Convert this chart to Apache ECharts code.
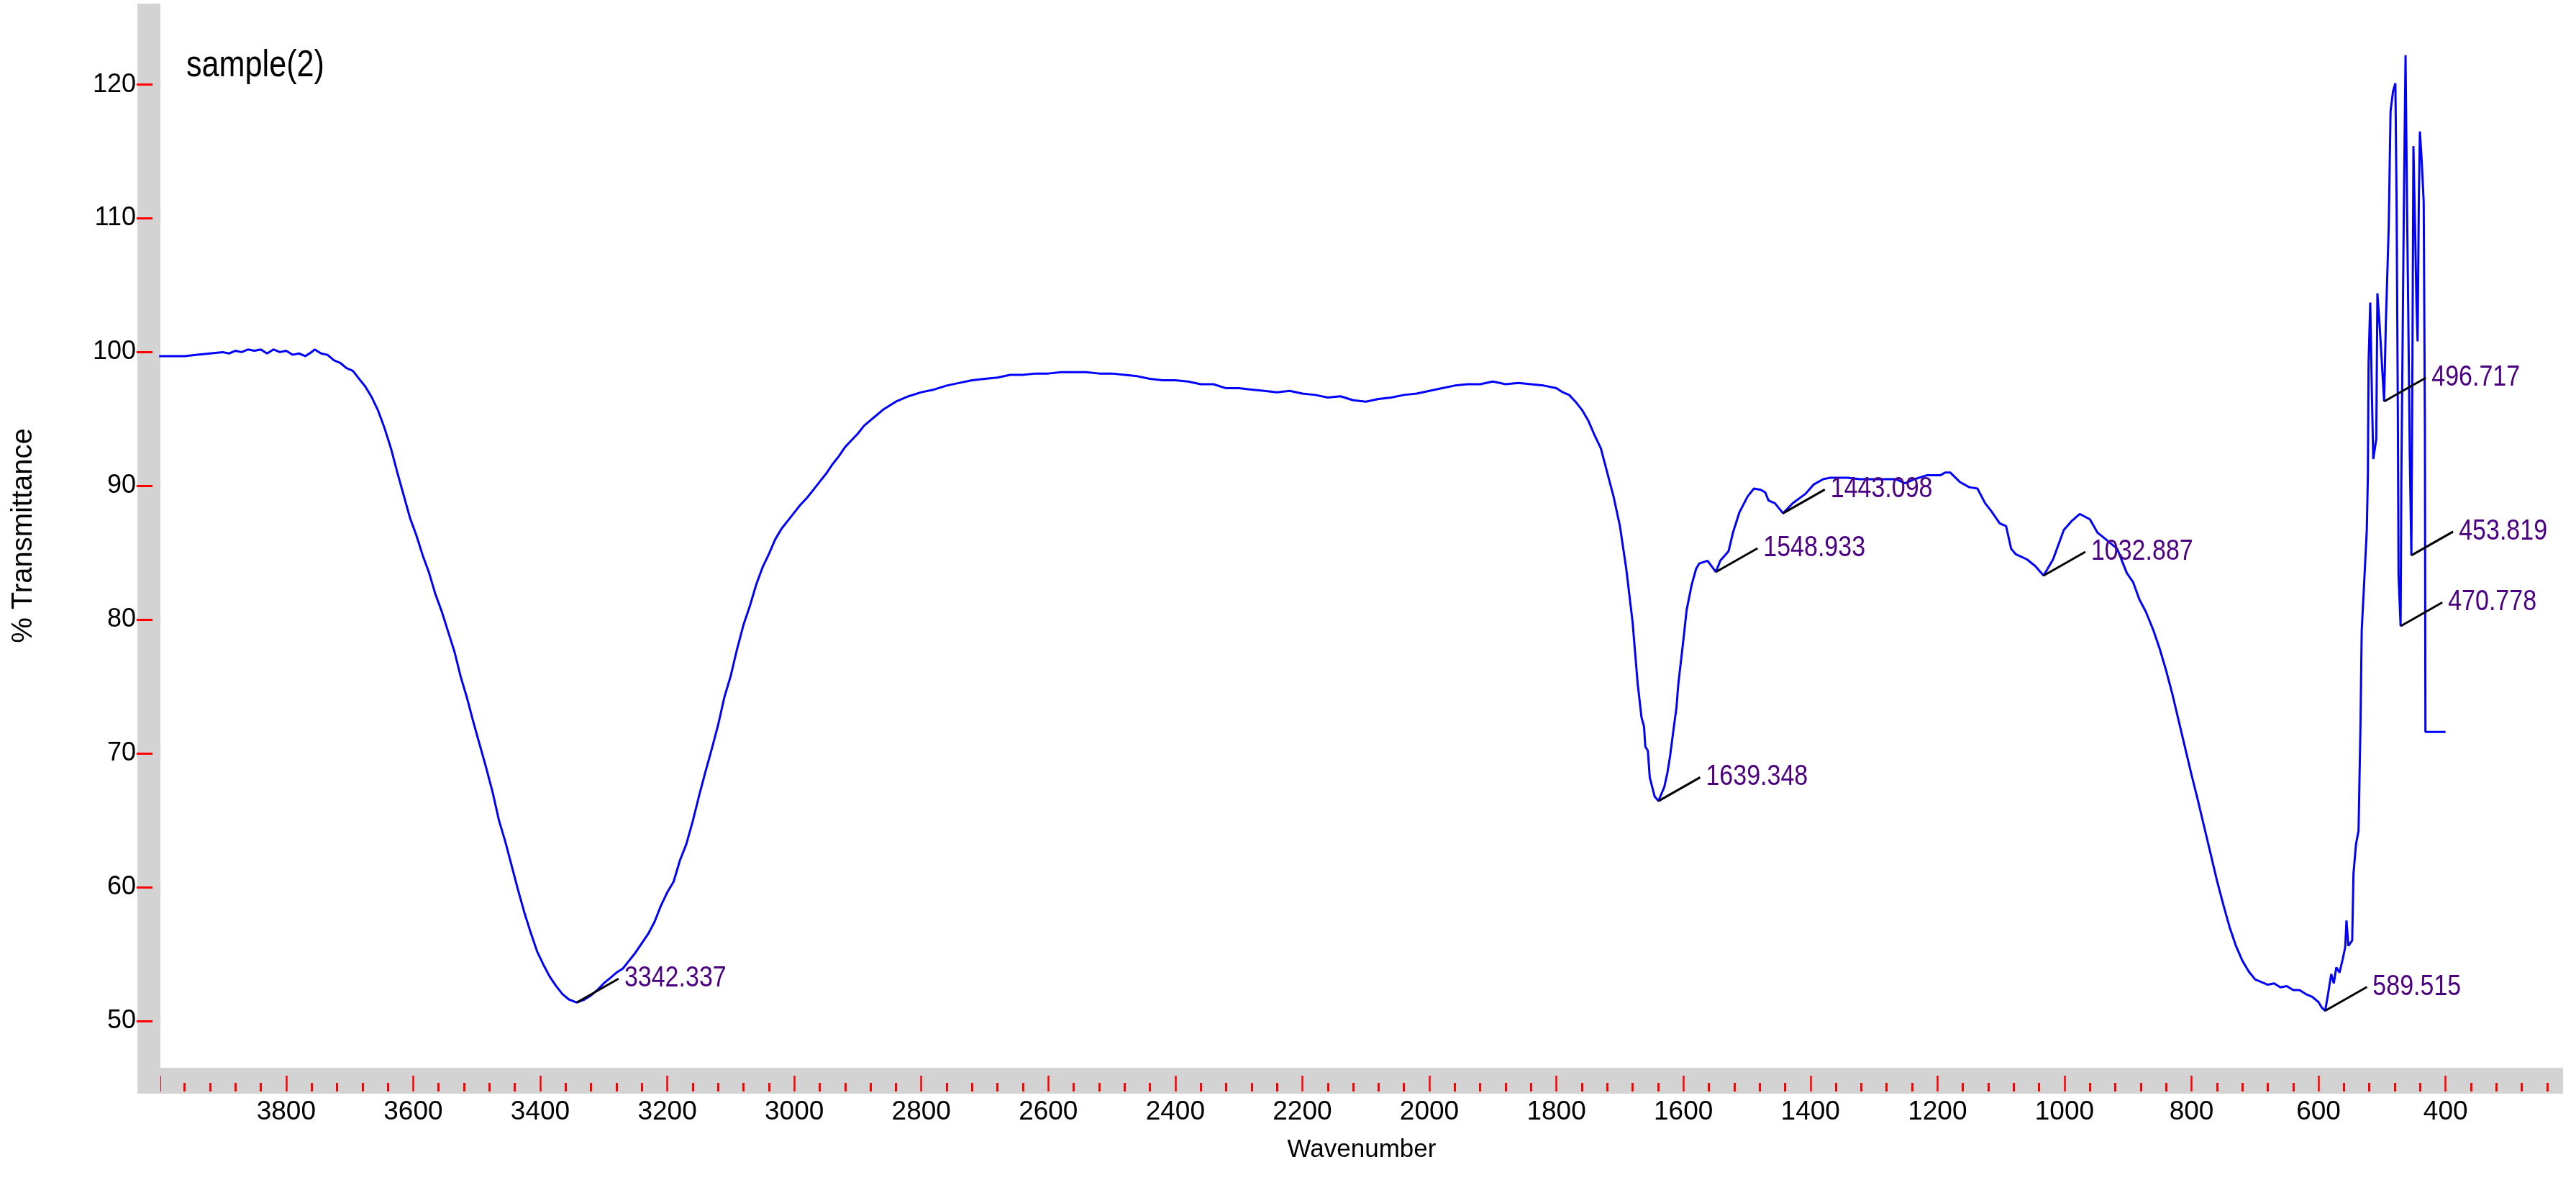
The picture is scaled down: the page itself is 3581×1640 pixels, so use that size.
<!DOCTYPE html>
<html>
<head>
<meta charset="utf-8">
<title>sample(2)</title>
<script src="https://cdn.jsdelivr.net/npm/echarts@6/dist/echarts.min.js"></script>
<style>
  html, body { margin: 0; padding: 0; background: #fff; }
  #chart { width: 3581px; height: 1640px; }
</style>
</head>
<body>
<div id="chart"></div>
<script>
// spectrum (cm-1, %T)
var wavenumber = [
  4000, 3980, 3960, 3940, 3920, 3900, 3890, 3880, 3870, 3860, 3850, 3840, 3830, 3820, 3810, 3800,
  3790, 3780, 3770, 3760, 3755, 3745, 3735, 3725, 3715, 3705, 3695, 3685, 3675, 3665, 3655, 3645,
  3635, 3625, 3615, 3605, 3595, 3585, 3575, 3565, 3555, 3545, 3535, 3525, 3515, 3505, 3495, 3485,
  3475, 3465, 3455, 3445, 3435, 3425, 3415, 3405, 3395, 3385, 3375, 3365, 3355, 3342.337, 3330, 3320,
  3310, 3300, 3290, 3280, 3270, 3260, 3250, 3240, 3230, 3220, 3210, 3200, 3190, 3180, 3170, 3160,
  3150, 3140, 3130, 3120, 3110, 3100, 3090, 3080, 3070, 3060, 3050, 3040, 3030, 3020, 3010, 3000,
  2990, 2980, 2970, 2960, 2950, 2940, 2930, 2920, 2910, 2900, 2890, 2880, 2870, 2860, 2850, 2840,
  2820, 2800, 2780, 2760, 2740, 2720, 2700, 2680, 2660, 2640, 2620, 2600, 2580, 2560, 2540, 2520,
  2500, 2480, 2460, 2440, 2420, 2400, 2380, 2360, 2340, 2320, 2300, 2280, 2260, 2240, 2220, 2200,
  2180, 2160, 2140, 2120, 2100, 2080, 2060, 2040, 2020, 2000, 1980, 1960, 1940, 1920, 1900, 1880,
  1860, 1840, 1820, 1800, 1790, 1780, 1770, 1760, 1750, 1740, 1730, 1720, 1710, 1700, 1690, 1680,
  1672, 1666, 1662, 1660, 1656, 1653, 1645.5, 1639.348, 1630, 1625, 1621, 1615, 1611, 1608, 1600, 1595,
  1587, 1580, 1575, 1562, 1548.933, 1542, 1529, 1522, 1512, 1499, 1489, 1478, 1471, 1466, 1456, 1443.098,
  1428, 1408, 1395, 1380, 1370, 1342, 1322, 1266, 1251, 1236, 1216, 1195, 1188, 1180, 1165, 1150,
  1137, 1125, 1115, 1102, 1092, 1084, 1077, 1059, 1046, 1032.887, 1018, 1001, 988, 976, 960, 948,
  940, 917, 902, 892, 882, 872, 860, 850, 840, 830, 820, 810, 800, 790, 780, 770,
  760, 750, 740, 730, 720, 710, 700, 690, 680, 670, 660, 650, 640, 630, 620, 610,
  600, 595, 589.515, 585, 580, 576, 572, 567, 562, 558, 556, 553, 550, 547, 545, 541,
  537, 534, 532, 528, 524, 522.3, 521.2, 518.6, 516, 513.8, 509.1, 507.3, 503.5, 496.717, 494, 489.5,
  486.6, 482.7, 479, 477.1, 475.2, 474, 470.778, 469.6, 465.6, 463, 460.7, 458.9, 456.3, 453.819, 452.5, 450.6,
  448, 445.8, 444, 442.1, 440.4, 437.4, 434.4, 432.5, 431.7, 400
];
var transmittance = [
  99.7, 99.7, 99.7, 99.8, 99.9, 100.0, 99.9, 100.1, 100.0, 100.2, 100.1, 100.2, 99.9, 100.2, 100.0, 100.1,
  99.8, 99.9, 99.7, 100.0, 100.2, 99.9, 99.8, 99.4, 99.2, 98.8, 98.6, 98.0, 97.4, 96.6, 95.6, 94.3,
  92.8, 91.0, 89.3, 87.6, 86.3, 84.8, 83.5, 81.9, 80.6, 79.1, 77.6, 75.7, 74.1, 72.3, 70.6, 68.9,
  67.1, 65.0, 63.4, 61.6, 59.8, 58.1, 56.6, 55.2, 54.2, 53.3, 52.6, 52.0, 51.6, 51.37, 51.6, 51.9,
  52.3, 52.8, 53.2, 53.6, 53.9, 54.5, 55.1, 55.8, 56.5, 57.4, 58.6, 59.6, 60.4, 62.0, 63.2, 64.9,
  66.8, 68.6, 70.3, 72.1, 74.2, 75.8, 77.8, 79.6, 81.0, 82.6, 83.9, 84.9, 86.0, 86.8, 87.4, 88.0,
  88.6, 89.1, 89.7, 90.3, 90.9, 91.6, 92.2, 92.9, 93.4, 93.9, 94.5, 94.9, 95.3, 95.7, 96.0, 96.3,
  96.7, 97.0, 97.2, 97.5, 97.7, 97.9, 98.0, 98.1, 98.3, 98.3, 98.4, 98.4, 98.5, 98.5, 98.5, 98.4,
  98.4, 98.3, 98.2, 98.0, 97.9, 97.9, 97.8, 97.6, 97.6, 97.3, 97.3, 97.2, 97.1, 97.0, 97.1, 96.9,
  96.8, 96.6, 96.7, 96.4, 96.3, 96.5, 96.6, 96.8, 96.9, 97.1, 97.3, 97.5, 97.6, 97.6, 97.8, 97.6,
  97.7, 97.6, 97.5, 97.3, 97.0, 96.8, 96.3, 95.7, 94.9, 93.8, 92.8, 91.0, 89.2, 87.0, 83.8, 79.8,
  75.2, 72.7, 72.0, 70.5, 70.2, 68.2, 66.8, 66.43, 67.5, 68.6, 69.8, 72.0, 73.4, 75.2, 78.5, 80.7,
  82.6, 83.8, 84.2, 84.4, 83.56, 84.4, 85.1, 86.5, 88.0, 89.2, 89.8, 89.7, 89.5, 88.9, 88.7, 87.95,
  88.7, 89.4, 90.1, 90.5, 90.6, 90.6, 90.5, 90.5, 90.2, 90.5, 90.8, 90.8, 91.0, 91.0, 90.3, 89.9,
  89.8, 88.7, 88.1, 87.2, 87.0, 85.3, 84.9, 84.5, 84.0, 83.29, 84.5, 86.7, 87.4, 87.9, 87.5, 86.5,
  86.2, 85.3, 83.5, 82.8, 81.5, 80.6, 79.2, 77.8, 76.2, 74.4, 72.4, 70.4, 68.4, 66.5, 64.5, 62.5,
  60.5, 58.7, 57.0, 55.6, 54.5, 53.7, 53.1, 52.9, 52.7, 52.8, 52.5, 52.6, 52.3, 52.3, 52.0, 51.8,
  51.4, 51.0, 50.75, 52.0, 53.5, 52.8, 54.0, 53.6, 54.6, 55.5, 57.5, 55.6, 55.8, 56.0, 61.0, 63.2,
  64.2, 72.0, 79.2, 82.9, 86.7, 90.8, 99.2, 103.7, 96.9, 92.0, 93.5, 104.4, 101.8, 96.31, 102.2, 109.3,
  118.0, 119.5, 120.1, 111.2, 96.1, 83.3, 79.51, 90.4, 111.2, 122.2, 111.2, 103.7, 92.3, 84.8, 96.1, 115.4,
  109.3, 103.7, 100.8, 111.2, 116.5, 114.2, 111.2, 94.3, 71.6, 71.6
];

// labelled peaks
var peakWn = [3342.337, 1639.348, 1548.933, 1443.098, 1032.887, 589.515, 496.717, 470.778, 453.819];
var peakT = [51.37, 66.43, 83.56, 87.95, 83.29, 50.75, 96.31, 79.51, 84.8];
var peakLabels = ['3342.337', '1639.348', '1548.933', '1443.098', '1032.887', '589.515', '496.717', '470.778', '453.819'];

// axis ticks
var yTicks = [50, 60, 70, 80, 90, 100, 110, 120];
var xMajor = [3800, 3600, 3400, 3200, 3000, 2800, 2600, 2400, 2200, 2000, 1800, 1600, 1400, 1200, 1000, 800, 600, 400];
var xMinor = [];
for (var v = 3960; v >= 240; v -= 40) {
  if (v % 200 !== 0) xMinor.push(v);
}

var X_MIN = 215, X_MAX = 3998;
var Y_MIN = 46.49, Y_MAX = 126.06;

var FONT = "'Liberation Sans', Arial, sans-serif";
var TICK_RED = '#ff0000';
var NARROW = 0.85; // the original lettering is condensed

var spectrum = wavenumber.map(function (w, i) { return [w, transmittance[i]]; });
var peaks = peakWn.map(function (w, i) { return [w, peakT[i]]; });

var chart = echarts.init(document.getElementById('chart'));

function plain(v) { return String(v); }

function xAxisBase(extra) {
  var a = {
    type: 'value',
    gridIndex: 0,
    position: 'bottom',
    inverse: true,
    min: X_MIN,
    max: X_MAX,
    offset: 33,
    axisLine: { show: false },
    splitLine: { show: false },
    axisLabel: { show: false },
    axisTick: { show: false }
  };
  for (var k in extra) a[k] = extra[k];
  return a;
}

chart.setOption({
  backgroundColor: '#ffffff',
  animation: false,
  graphic: [
    // grey frame bands along the left and bottom of the plot
    { type: 'rect', z: -10, shape: { x: 191, y: 5, width: 32, height: 1515 }, style: { fill: '#d3d3d3' } },
    { type: 'rect', z: -10, shape: { x: 191, y: 1484, width: 3372, height: 36 }, style: { fill: '#d3d3d3' } },
    {
      type: 'text', x: 259, y: 66, scaleX: 0.83,
      style: { text: 'sample(2)', fill: '#000', fontSize: 52, fontFamily: FONT, verticalAlign: 'top' }
    }
  ],
  grid: { left: 223, right: 18, top: 5, bottom: 156, containLabel: false },
  xAxis: [
    xAxisBase({
      name: 'Wavenumber',
      nameLocation: 'middle',
      nameGap: 64,
      nameTextStyle: { fontSize: 35, color: '#000', fontFamily: FONT },
      axisTick: { show: true, inside: true, length: 22, customValues: xMajor, lineStyle: { color: TICK_RED, width: 2.5 } },
      axisLabel: { show: true, customValues: xMajor, formatter: plain, margin: 10, fontSize: 37, color: '#000', fontFamily: FONT }
    }),
    xAxisBase({
      axisTick: { show: true, inside: true, length: 12, customValues: xMinor, lineStyle: { color: TICK_RED, width: 3 } }
    }),
    xAxisBase({
      axisTick: { show: true, inside: true, length: 22, customValues: [X_MAX], lineStyle: { color: '#c00000', width: 1 } }
    })
  ],
  yAxis: {
    type: 'value',
    min: Y_MIN,
    max: Y_MAX,
    offset: 33,
    name: '% Transmittance',
    nameLocation: 'middle',
    nameGap: 137,
    nameTextStyle: { fontSize: 40, color: '#000', fontFamily: FONT },
    axisLine: { show: false },
    splitLine: { show: false },
    axisTick: { show: true, inside: true, length: 22, customValues: yTicks, lineStyle: { color: TICK_RED, width: 3 } },
    axisLabel: { show: true, customValues: yTicks, formatter: plain, margin: 1, fontSize: 36, color: '#000', fontFamily: FONT }
  },
  series: [
    {
      type: 'line',
      xAxisIndex: 0,
      yAxisIndex: 0,
      data: spectrum,
      showSymbol: false,
      lineStyle: { color: '#0000ff', width: 3 },
      z: 3
    },
    {
      type: 'custom',
      xAxisIndex: 0,
      yAxisIndex: 0,
      data: peaks,
      clip: false,
      z: 4,
      renderItem: function (params, api) {
        var p = api.coord([api.value(0), api.value(1)]);
        return {
          type: 'group',
          children: [
            {
              type: 'line',
              shape: { x1: p[0], y1: p[1], x2: p[0] + 58, y2: p[1] - 33 },
              style: { stroke: '#000', lineWidth: 3 }
            },
            {
              type: 'text',
              x: p[0] + 66,
              y: p[1] - 33,
              scaleX: NARROW,
              style: {
                text: peakLabels[params.dataIndex],
                fill: '#4b0082',
                fontSize: 40,
                fontFamily: FONT,
                align: 'left',
                verticalAlign: 'middle'
              }
            }
          ]
        };
      }
    }
  ]
});
</script>
</body>
</html>
